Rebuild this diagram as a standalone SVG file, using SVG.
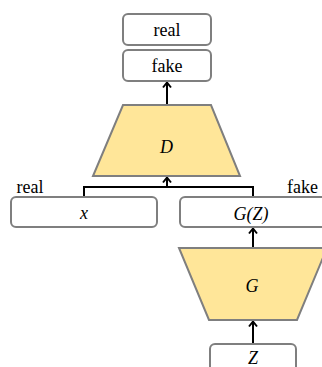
<svg xmlns="http://www.w3.org/2000/svg" width="322" height="367" viewBox="0 0 322 367">
<style>
.box{fill:#fff;stroke:#7f7f7f;stroke-width:2}
.trap{fill:#FFE699;stroke:#7f7f7f;stroke-width:2}
.t{font-family:"Liberation Serif",serif;font-size:18px;fill:#000;text-anchor:middle}
.m{font-family:"Liberation Serif",serif;font-style:italic;font-size:18px;fill:#000;text-anchor:middle}
.c{fill:none;stroke:#000;stroke-width:2}
</style>
<defs>
<marker id="ah" markerUnits="userSpaceOnUse" markerWidth="12" markerHeight="12" viewBox="-6 -6 12 12" refX="0" refY="0" orient="auto">
<path d="M-5,-4 L0,0 L-5,4" fill="none" stroke="#000" stroke-width="2"/>
</marker>
</defs>
<g id="connectors">
<line class="c" x1="167" y1="105" x2="167" y2="82.5" marker-end="url(#ah)"/>
<polyline class="c" points="84,197 84,187 253,187 253,197"/>
<line class="c" x1="167" y1="187" x2="167" y2="177.5" marker-end="url(#ah)"/>
<line class="c" x1="253" y1="248" x2="253" y2="228.5" marker-end="url(#ah)"/>
<line class="c" x1="253" y1="344" x2="253" y2="321.5" marker-end="url(#ah)"/>
</g>
<g id="real-out"><rect class="box" x="123" y="14" width="88" height="31" rx="5"/><text class="t" x="167" y="36">real</text></g>
<g id="fake-out"><rect class="box" x="123" y="50" width="88" height="31" rx="5"/><text class="t" x="167" y="72">fake</text></g>
<g id="D"><polygon class="trap" points="123,105 211,105 240,176 93,176"/><text class="m" x="166.5" y="153">D</text></g>
<g id="x"><rect class="box" x="11" y="197" width="146" height="30" rx="5"/><text class="m" x="84" y="219">x</text></g>
<g id="GZ"><rect class="box" x="180" y="197" width="146" height="30" rx="5"/><text class="m" x="251" y="220">G(Z)</text></g>
<g id="labels"><text class="t" x="30" y="193">real</text><text class="t" x="302.5" y="193">fake</text></g>
<g id="G"><polygon class="trap" points="179,248 327,248 297,320 209,320"/><text class="m" x="252" y="292">G</text></g>
<g id="Z"><rect class="box" x="210" y="344" width="86" height="30" rx="5"/><text class="m" x="253" y="364">Z</text></g>
</svg>
